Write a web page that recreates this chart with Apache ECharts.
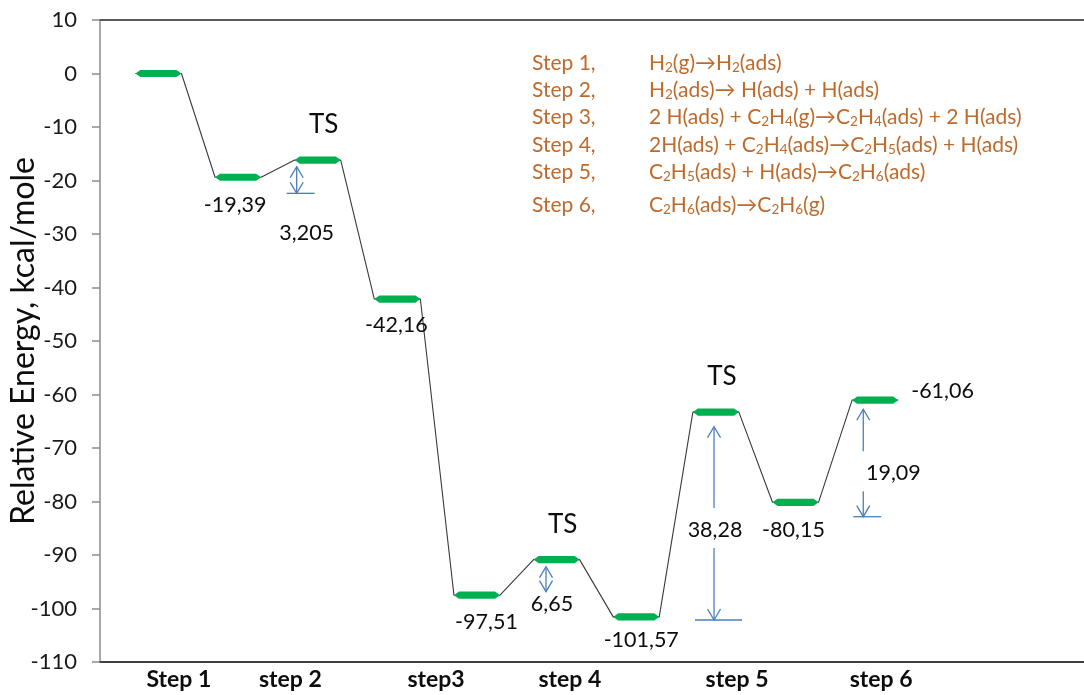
<!DOCTYPE html>
<html>
<head>
<meta charset="utf-8">
<title>Ethylene hydrogenation energy profile</title>
<script src="https://cdn.jsdelivr.net/npm/echarts@6/dist/echarts.min.js"></script>
<style>
  html, body { margin: 0; padding: 0; background: #ffffff; }
  #chart { width: 1084px; height: 695px; }
</style>
</head>
<body>
<div id="chart"></div>
<script>
// Relative energy (kcal/mole) of every state along the reaction path
const energies = [0, -19.39, -16.185, -42.16, -97.51, -90.86, -101.57, -63.29, -80.15, -61.06];
const isTransitionState = [false, false, true, false, false, true, false, true, false, false];

// States whose energy is written next to the level
const labelledStates = [1, 3, 4, 6, 8, 9];

// Barriers: lower state -> upper state, and the height written on the arrow
const barrierFrom = [1, 4, 6, 8];
const barrierTo = [2, 5, 7, 9];
const barrierHeights = [3.205, 6.65, 38.28, 19.09];

// Bottom axis step names and where they sit on the reaction coordinate
const stepLabels = ['Step 1', 'step 2', 'step3', 'step 4', 'step 5', 'step 6'];
const stepLabelAt = [0.99, 2.39, 4.22, 5.90, 8.00, 9.81];

// Reaction list ("_n" marks a subscript digit)
const reactionSteps = ['Step 1,', 'Step 2,', 'Step 3,', 'Step 4,', 'Step 5,', 'Step 6,'];
const reactions = [
  'H_2(g)\u2192H_2(ads)',
  'H_2(ads)\u2192 H(ads) + H(ads)',
  '2 H(ads) + C_2H_4(g)\u2192C_2H_4(ads) + 2 H(ads)',
  '2H(ads) + C_2H_4(ads)\u2192C_2H_5(ads) + H(ads)',
  'C_2H_5(ads) + H(ads)\u2192C_2H_6(ads)',
  'C_2H_6(ads)\u2192C_2H_6(g)'
];

// ---- layout ----
const FONT = 'Lato, "Noto Sans", sans-serif';
const LEVEL_OFFSET = 0.445;   // start of level i is i + LEVEL_OFFSET
const LEVEL_WIDTH = 0.578;
const X_MAX = 12.357;
const GREEN = '#00b050';
const ARROW = '#4a7ebb';
const TEXT = '#0d0d0d';
const LEGEND = '#bf6a2a';
const LABEL_SIZE = 21.5;

// label placement for level values (pixels from level centre)
const valueLabelLayout = {
  1: { dx: -3, dy: 28 },
  3: { dx: -1, dy: 26 },
  4: { dx: 9.5, dy: 26.5 },
  6: { dx: 5, dy: 23 },
  8: { dx: -2, dy: 27.7 },
  9: { right: true, dx: 13, dy: -9.5 }
};
// arrow geometry for each barrier (x on the reaction coordinate, pixel paddings)
const arrowLayout = [
  { x: 2.470, topPad: 6.6, botPad: 16.1, bar: [-10, 18], labelDx: 10, labelDy: 39.4, gap: false, align: 'center' },
  { x: 5.601, topPad: 7.1, botPad: -3.5, bar: null, labelDx: 6, labelDy: 12.3, gap: false, align: 'center' },
  { x: 7.711, topPad: 14.6, botPad: 3.1, bar: [-19, 28], labelDx: 1, labelDy: -90, gap: true, align: 'center' },
  { x: 9.585, topPad: 9.1, botPad: 14.4, bar: [-10, 18], labelDx: 2.7, labelDy: -43.4, gap: true, align: 'left' }
];
const legendRowY = [63, 90, 117, 145, 172, 205];

const fmt = v => String(v).replace('.', ',');

// connector path: both ends of every level, in order
const pathData = [];
energies.forEach((e, i) => {
  pathData.push([i + LEVEL_OFFSET, e]);
  pathData.push([i + LEVEL_OFFSET + LEVEL_WIDTH, e]);
});

const levelData = energies.map((e, i) => [i + LEVEL_OFFSET, i + LEVEL_OFFSET + LEVEL_WIDTH, e]);

const barrierData = barrierHeights.map((h, k) => [
  arrowLayout[k].x, energies[barrierFrom[k]], energies[barrierTo[k]], h
]);

function renderLevel(params, api) {
  const i = params.dataIndex;
  const a = api.coord([api.value(0), api.value(2)]);
  const b = api.coord([api.value(1), api.value(2)]);
  const y = a[1], x0 = a[0], x1 = b[0];
  const hh = 3.6, taper = 5;
  const children = [{
    type: 'polygon',
    shape: { points: [[x0, y], [x0 + taper, y - hh], [x1 - taper, y - hh], [x1, y], [x1 - taper, y + hh], [x0 + taper, y + hh]] },
    style: { fill: GREEN }
  }];
  const cx = (x0 + x1) / 2;
  if (isTransitionState[i]) {
    children.push({
      type: 'text', x: cx + 6, y: y - 35,
      style: { text: 'TS', fill: TEXT, fontSize: 26, fontFamily: FONT, align: 'center', verticalAlign: 'middle' }
    });
  }
  if (labelledStates.indexOf(i) >= 0) {
    const L = valueLabelLayout[i];
    children.push({
      type: 'text',
      x: L.right ? x1 + L.dx : cx + L.dx,
      y: y + L.dy,
      style: { text: fmt(api.value(2)), fill: TEXT, fontSize: LABEL_SIZE, fontFamily: FONT,
               align: L.right ? 'left' : 'center', verticalAlign: 'middle' }
    });
  }
  return { type: 'group', children };
}

function renderArrow(params, api) {
  const L = arrowLayout[params.dataIndex];
  const top = api.coord([api.value(0), api.value(2)]);
  const bot = api.coord([api.value(0), api.value(1)]);
  const x = top[0];
  const y1 = top[1] + L.topPad;
  const y2 = bot[1] + L.botPad;
  const st = { stroke: ARROW, lineWidth: 1.3, fill: null };
  const seg = (xa, ya, xb, yb) => ({ type: 'line', shape: { x1: xa, y1: ya, x2: xb, y2: yb }, style: st });
  const children = [];
  const ly = y2 + L.labelDy;
  if (L.gap) {
    children.push(seg(x, y1, x, ly - 22));
    children.push(seg(x, ly + 18, x, y2));
  } else {
    children.push(seg(x, y1, x, y2));
  }
  const hw = 6.5, hl = 11;
  children.push({ type: 'polyline', shape: { points: [[x - hw, y1 + hl], [x, y1], [x + hw, y1 + hl]] }, style: st });
  children.push({ type: 'polyline', shape: { points: [[x - hw, y2 - hl], [x, y2], [x + hw, y2 - hl]] }, style: st });
  if (L.bar) children.push(seg(x + L.bar[0], y2, x + L.bar[1], y2));
  children.push({
    type: 'text', x: x + L.labelDx, y: ly,
    style: { text: fmt(api.value(3)), fill: TEXT, fontSize: LABEL_SIZE, fontFamily: FONT, align: L.align, verticalAlign: 'middle' }
  });
  return { type: 'group', children };
}

// reaction list as rich text (subscripts lowered)
const legendGraphics = [];
reactionSteps.forEach((s, i) => {
  legendGraphics.push({
    type: 'text', left: 532, top: legendRowY[i] - 12,
    style: { text: s, fill: LEGEND, fontSize: 21, fontFamily: FONT, lineHeight: 24 }
  });
  legendGraphics.push({
    type: 'text', left: 649, top: legendRowY[i] - 12,
    style: {
      text: reactions[i].replace(/_(\d)/g, '{s|$1}'),
      fill: LEGEND, fontSize: 21, fontFamily: FONT, lineHeight: 24,
      rich: { s: { fill: LEGEND, fontSize: 13.5, fontFamily: FONT, lineHeight: 9, verticalAlign: 'bottom' } }
    }
  });
});

const chart = echarts.init(document.getElementById('chart'), null, { renderer: 'canvas' });
chart.setOption({
  animation: false,
  backgroundColor: '#ffffff',
  grid: { left: 100, right: 0, top: 20, bottom: 33, containLabel: false, outerBoundsMode: 'none' },
  xAxis: [
    {
      type: 'value', position: 'bottom', min: 0, max: X_MAX,
      splitLine: { show: false },
      axisLine: { show: true, onZero: false, lineStyle: { color: '#404040', width: 2 } },
      axisTick: { show: false },
      axisLabel: {
        customValues: stepLabelAt,
        formatter: v => {
          let best = 0;
          stepLabelAt.forEach((p, k) => { if (Math.abs(p - v) < Math.abs(stepLabelAt[best] - v)) best = k; });
          return stepLabels[best];
        },
        color: TEXT, fontSize: 23, fontWeight: 'bold', fontFamily: FONT, margin: 6
      }
    },
    {
      type: 'value', position: 'top', min: 0, max: X_MAX,
      splitLine: { show: false },
      axisLine: { show: true, onZero: false, lineStyle: { color: '#595959', width: 2 } },
      axisTick: { show: false },
      axisLabel: { show: false }
    }
  ],
  yAxis: {
    type: 'value', min: -110, max: 10, interval: 10,
    name: 'Relative Energy, kcal/mole',
    nameLocation: 'middle', nameRotate: 90, nameGap: 60, nameMoveOverlap: false,
    nameTextStyle: { color: TEXT, fontSize: 32, fontFamily: FONT },
    splitLine: { show: false },
    axisLine: { show: true, lineStyle: { color: '#8c8c8c', width: 1.5 } },
    axisTick: { show: true, length: 8, lineStyle: { color: '#8c8c8c', width: 1.5 } },
    axisLabel: { color: '#1a1a1a', fontSize: 22, fontFamily: FONT, margin: 23 }
  },
  graphic: legendGraphics,
  series: [
    {
      type: 'line', data: pathData, symbol: 'none', z: 1,
      lineStyle: { color: '#3a3a3a', width: 1.1 }
    },
    {
      type: 'custom', data: levelData, renderItem: renderLevel, z: 3,
      encode: { x: [0, 1], y: 2 }
    },
    {
      type: 'custom', data: barrierData, renderItem: renderArrow, z: 4,
      encode: { x: 0, y: [1, 2] }
    }
  ]
});
</script>
</body>
</html>
